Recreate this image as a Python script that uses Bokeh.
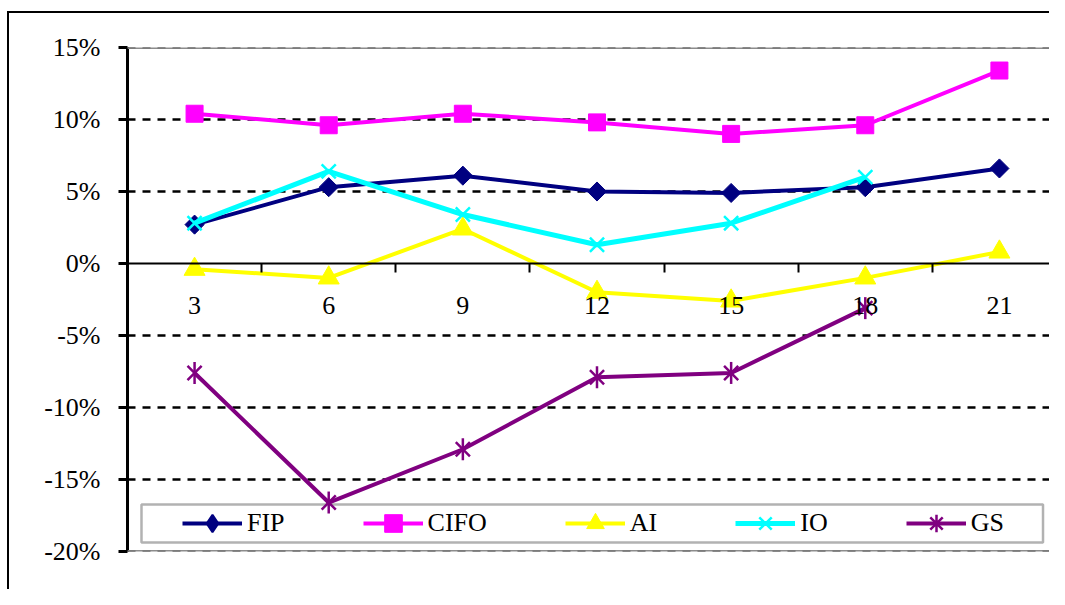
import math
from bokeh.plotting import figure
from bokeh.models import (Range1d, FixedTicker, Legend, LegendItem,
                          BoxAnnotation, Span)
from bokeh.embed import file_html
from bokeh.resources import INLINE

nan = float("nan")

# ---- data (percent) ----
periods = [3, 6, 9, 12, 15, 18, 21]
period_labels = ["3", "6", "9", "12", "15", "18", "21"]
fip = [2.7, 5.3, 6.1, 5.0, 4.9, 5.3, 6.6]
cifo = [10.4, 9.6, 10.4, 9.8, 9.0, 9.6, 13.4]
ai = [-0.4, -1.0, 2.4, -2.0, -2.6, -1.0, 0.8]
io = [2.8, 6.4, 3.4, 1.3, 2.8, 6.0, nan]
gs = [-7.6, -16.6, -12.9, -7.9, -7.6, -3.1, nan]
y_ticks = [-20, -15, -10, -5, 0, 5, 10, 15]
series_names = ["FIP", "CIFO", "AI", "IO", "GS"]

FONT = "Liberation Serif"
FS = "26px"

step = periods[1] - periods[0]
x_start = periods[0] - step / 2

p = figure(width=1049, height=589, output_backend="svg", toolbar_location=None,
           x_range=Range1d(x_start, 22.12), y_range=Range1d(y_ticks[0], y_ticks[-1]),
           min_border_left=127, min_border_right=0, min_border_top=47,
           min_border_bottom=38, outline_line_color=None,
           background_fill_color="white", border_fill_alpha=0)

# outer chart frame: left and top edges drawn as the element's CSS background
p.styles = {
    "background-color": "white",
    "background-image": "linear-gradient(black, black), linear-gradient(black, black)",
    "background-size": "2px 100%, 100% 2px",
    "background-position": "7px 11px, 7px 11px",
    "background-repeat": "no-repeat",
}

# grid
p.xgrid.visible = False
p.ygrid.ticker = FixedTicker(ticks=[t for t in y_ticks[1:-1] if t != 0])
p.ygrid.grid_line_color = "black"
p.ygrid.grid_line_width = 2.5
p.ygrid.grid_line_dash = "8 7"

# top / bottom plot-area border lines
for t in (y_ticks[0], y_ticks[-1]):
    p.add_layout(Span(location=t, dimension="width", line_color="#8c8c8c",
                      line_width=3))
    p.add_layout(Span(location=t, dimension="width", line_color="#4d4d4d",
                      line_width=1.5, line_dash="8 7"))

# legend frame (behind the series)
p.add_layout(BoxAnnotation(left=1.813, right=21.975, top=-16.74, bottom=-19.38,
                           fill_color="white", fill_alpha=1.0,
                           line_color="black", line_width=2.5,
                           level="underlay"))

# y axis
yax = p.yaxis[0]
yax.ticker = FixedTicker(ticks=y_ticks)
yax.major_label_overrides = {t: f"{t}%" for t in y_ticks}
yax.axis_line_width = 3
yax.axis_line_color = "black"
yax.major_tick_out = 9
yax.major_tick_in = 0
yax.major_tick_line_width = 3
yax.minor_tick_line_color = None
yax.major_label_standoff = 18
yax.major_label_text_font = FONT
yax.major_label_text_font_size = FS
yax.major_label_text_color = "black"

# x axis, crossing at 0
xax = p.xaxis[0]
xax.fixed_location = 0
bounds = [x - step / 2 for x in periods] + [periods[-1] + step / 2]
xax.ticker = FixedTicker(ticks=periods, minor_ticks=bounds)
xax.major_label_overrides = dict(zip(periods, period_labels))
xax.axis_line_width = 2
xax.axis_line_color = "black"
xax.major_tick_out = 0
xax.major_tick_in = 0
xax.minor_tick_out = 9
xax.minor_tick_in = 0
xax.minor_tick_line_width = 2
xax.minor_tick_line_color = "black"
xax.major_label_standoff = 24
xax.major_label_text_font = FONT
xax.major_label_text_font_size = FS
xax.major_label_text_color = "black"

items = []
nx, ny = [nan], [nan]   # legend-only marker renderers draw nothing in the plot

# FIP - navy diamonds
l = p.line(periods, fip, line_color="#000080", line_width=4, line_join="round")
p.scatter(periods, fip, marker="square", angle=math.pi / 4, size=13.5,
          fill_color="#000080", line_color="#000080")
lg = p.scatter(nx, ny, marker="diamond", fill_color="#000080",
               line_color="#000080", line_width=2)
items.append(LegendItem(label=series_names[0], renderers=[l, lg]))

# CIFO - magenta squares
l = p.line(periods, cifo, line_color="#FF00FF", line_width=4, line_join="round")
s = p.scatter(periods, cifo, marker="square", size=17,
              fill_color="#FF00FF", line_color="#FF00FF")
items.append(LegendItem(label=series_names[1], renderers=[l, s]))

# AI - yellow triangles
l = p.line(periods, ai, line_color="#FFFF00", line_width=4, line_join="round")
s = p.scatter(periods, ai, marker="triangle", size=21,
              fill_color="#FFFF00", line_color="#FFFF00")
items.append(LegendItem(label=series_names[2], renderers=[l, s]))

# IO - cyan x
l = p.line(periods, io, line_color="#00FFFF", line_width=5, line_join="round")
s = p.scatter(periods, io, marker="x", size=20, line_color="#00FFFF",
              line_width=2.5)
items.append(LegendItem(label=series_names[3], renderers=[l, s]))

# GS - purple star (x + vertical bar)
l = p.line(periods, gs, line_color="#800080", line_width=4, line_join="round")
p.scatter(periods, gs, marker="x", size=20, line_color="#800080",
          line_width=2.5)
p.scatter(periods, gs, marker="dash", angle=math.pi / 2, size=22,
          line_color="#800080", line_width=2.5)
lg = p.scatter(nx, ny, marker="asterisk", line_color="#800080", line_width=2.5)
items.append(LegendItem(label=series_names[4], renderers=[l, lg]))

legend = Legend(items=items, orientation="horizontal", location=(51, 2),
                padding=4, spacing=78, glyph_width=60, glyph_height=44,
                label_height=44, label_standoff=5, margin=0,
                label_text_font=FONT, label_text_font_size=FS,
                label_text_color="black",
                border_line_alpha=0, background_fill_alpha=0)
p.add_layout(legend)

open("out.html", "w").write(file_html(p, INLINE))
